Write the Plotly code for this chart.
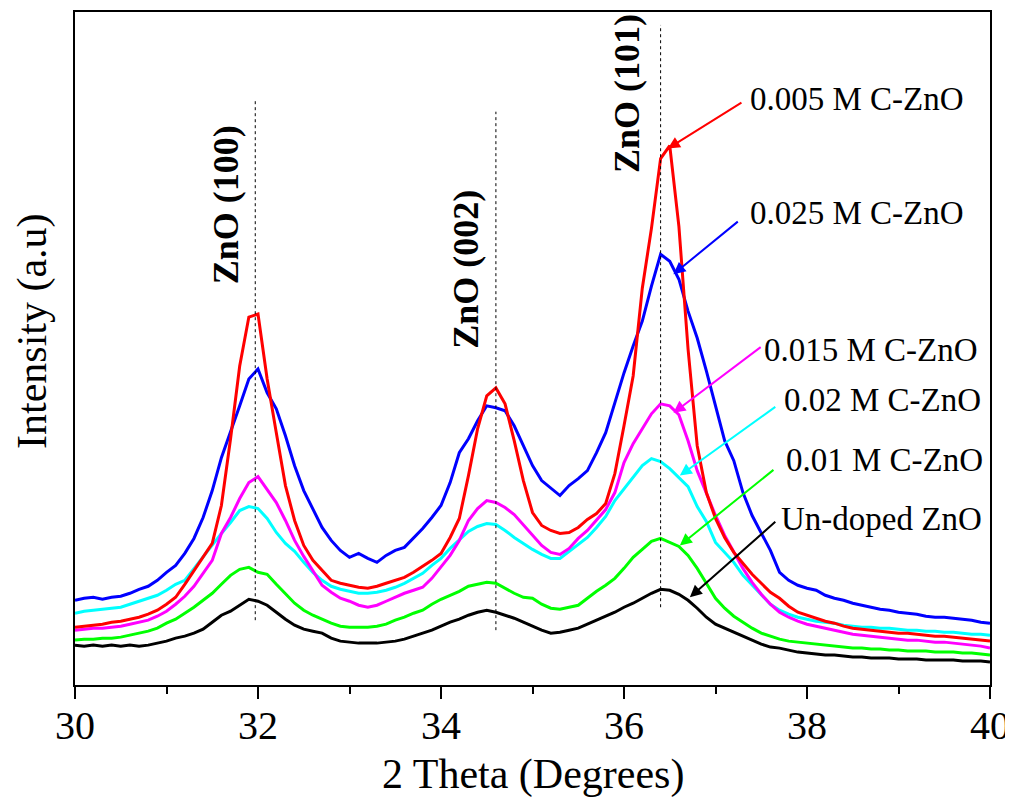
import numpy as np
import plotly.graph_objects as go

# 2-theta sampling grid (degrees)
two_theta = np.round(np.arange(30.0, 40.0001, 0.1), 1)

# Intensities (a.u.), one value per 0.1 degree from 30.0 to 40.0
undoped = [40, 39, 40, 39, 40, 39, 40, 39, 40, 42,
           44, 47, 49, 52, 56, 63, 70, 74, 80, 86,
           84, 80, 73, 66, 60, 56, 54, 52, 47, 44,
           43, 42, 42, 42, 43, 44, 46, 49, 52, 55,
           59, 63, 66, 70, 73, 75, 73, 70, 67, 63,
           59, 55, 52, 53, 55, 57, 61, 65, 69, 73,
           78, 82, 87, 92, 96, 95, 91, 85, 77, 68,
           61, 57, 53, 49, 45, 41, 38, 37, 35, 33,
           32, 31, 30, 30, 29, 28, 28, 27, 27, 27,
           26, 26, 26, 25, 25, 25, 25, 24, 24, 24,
           23]
c_010 = [45, 46, 46, 47, 47, 48, 50, 52, 54, 57,
         62, 66, 72, 78, 85, 92, 101, 110, 116, 118,
         113, 111, 101, 91, 82, 75, 70, 66, 62, 59,
         58, 58, 58, 59, 61, 65, 68, 72, 75, 81,
         86, 90, 94, 99, 101, 103, 102, 97, 92, 88,
         87, 81, 77, 76, 78, 80, 87, 94, 100, 107,
         117, 128, 136, 144, 147, 143, 139, 130, 117, 102,
         87, 77, 69, 63, 57, 52, 49, 46, 44, 43,
         42, 41, 40, 39, 38, 37, 37, 36, 36, 35,
         35, 34, 34, 34, 33, 33, 33, 32, 32, 31,
         30]
c_020 = [72, 74, 75, 76, 77, 78, 81, 84, 87, 90,
         95, 101, 105, 117, 129, 140, 152, 163, 175, 179,
         177, 167, 153, 142, 134, 123, 113, 105, 99, 96,
         94, 92, 92, 93, 95, 98, 102, 107, 112, 120,
         127, 137, 145, 154, 159, 162, 161, 155, 148, 142,
         136, 131, 127, 127, 134, 141, 148, 158, 169, 185,
         197, 208, 220, 227, 224, 217, 208, 199, 179, 164,
         143, 133, 123, 110, 100, 90, 81, 75, 71, 68,
         66, 64, 63, 62, 60, 59, 58, 58, 57, 57,
         56, 55, 55, 54, 54, 53, 53, 52, 51, 51,
         50]
c_015 = [55, 56, 57, 57, 58, 59, 61, 63, 65, 69,
         74, 81, 89, 99, 112, 125, 152, 168, 187, 203,
         209, 196, 183, 165, 145, 129, 115, 100, 93, 87,
         84, 80, 78, 80, 84, 88, 92, 95, 98, 107,
         118, 130, 145, 165, 177, 185, 183, 178, 171, 161,
         150, 140, 133, 131, 137, 147, 155, 165, 176, 193,
         223, 242, 257, 272, 282, 280, 271, 245, 215, 193,
         170, 150, 133, 117, 103, 91, 81, 73, 68, 64,
         61, 59, 57, 55, 53, 51, 50, 49, 48, 47,
         46, 45, 45, 44, 43, 43, 42, 41, 40, 39,
         37]
c_025 = [85, 87, 88, 86, 88, 89, 92, 96, 99, 105,
         113, 120, 132, 147, 168, 195, 228, 253, 280, 307,
         317, 293, 277, 250, 220, 195, 177, 158, 145, 135,
         128, 132, 127, 123, 130, 135, 138, 147, 157, 168,
         180, 203, 233, 247, 265, 280, 278, 275, 260, 240,
         220, 205, 197, 190, 200, 207, 215, 233, 253, 283,
         313, 340, 365, 400, 432, 425, 407, 375, 348, 315,
         280, 245, 225, 193, 170, 153, 135, 113, 105, 100,
         97, 95, 90, 87, 85, 82, 80, 78, 76, 75,
         73, 72, 71, 69, 68, 68, 67, 66, 65, 63,
         62]
c_005 = [58, 59, 60, 61, 63, 64, 66, 68, 71, 75,
         81, 88, 101, 115, 128, 142, 180, 247, 320, 369,
         372, 307, 253, 200, 165, 140, 125, 115, 105, 102,
         100, 98, 97, 99, 102, 105, 108, 113, 119, 125,
         132, 148, 167, 210, 257, 290, 298, 282, 245, 205,
         173, 160, 155, 152, 153, 158, 166, 172, 182, 212,
         260, 310, 398, 458, 528, 541, 460, 337, 240, 193,
         167, 148, 133, 122, 111, 102, 93, 87, 79, 73,
         70, 67, 64, 62, 59, 57, 56, 55, 54, 53,
         52, 52, 51, 50, 49, 49, 48, 47, 46, 45,
         44]

series = [
    ("Un-doped ZnO", undoped, "#000000"),
    ("0.01 M C-ZnO", c_010, "#00FF00"),
    ("0.02 M C-ZnO", c_020, "#00FFFF"),
    ("0.015 M C-ZnO", c_015, "#FF00FF"),
    ("0.025 M C-ZnO", c_025, "#0000FF"),
    ("0.005 M C-ZnO", c_005, "#FF0000"),
]

# Peak reference lines: position, label, lower and upper intensity of the dotted line
peak_pos = [31.97, 34.60, 36.40]
peak_labels = ["ZnO (100)", "ZnO (002)", "ZnO (101)"]
peak_line_lo = [65, 55, 78]
peak_line_hi = [588, 575, 662]

# Series label placement (paper coords) and arrow head / tail (data coords)
label_pos = {
    "0.005 M C-ZnO": (0.7355, 0.871),
    "0.025 M C-ZnO": (0.7355, 0.702),
    "0.015 M C-ZnO": (0.7508, 0.498),
    "0.02 M C-ZnO": (0.7727, 0.424),
    "0.01 M C-ZnO": (0.7749, 0.335),
    "Un-doped ZnO": (0.7694, 0.247),
}
arrow_head = {
    "0.005 M C-ZnO": (36.48, 538), "0.025 M C-ZnO": (36.54, 412),
    "0.015 M C-ZnO": (36.54, 273), "0.02 M C-ZnO": (36.61, 210),
    "0.01 M C-ZnO": (36.61, 140), "Un-doped ZnO": (36.72, 88),
}
arrow_tail = {
    "0.005 M C-ZnO": (37.30, 585), "0.025 M C-ZnO": (37.26, 466),
    "0.015 M C-ZnO": (37.51, 340), "0.02 M C-ZnO": (37.67, 280),
    "0.01 M C-ZnO": (37.65, 217), "Un-doped ZnO": (37.67, 165),
}

FONT = "Liberation Serif"

fig = go.Figure()
for name, vals, color in series:
    fig.add_trace(go.Scatter(x=two_theta, y=vals, mode="lines", name=name,
                             line=dict(color=color, width=3), showlegend=False))

for xp, lo, hi in zip(peak_pos, peak_line_lo, peak_line_hi):
    fig.add_shape(type="line", xref="x", yref="y", x0=xp, x1=xp, y0=lo, y1=hi,
                  line=dict(color="black", width=1, dash="dot"))

ann = []
peak_label_pos = [(0.166, 0.714), (0.427, 0.618), (0.604, 0.879)]
for lab, (px, py) in zip(peak_labels, peak_label_pos):
    ann.append(dict(text="<b>%s</b>" % lab, xref="paper", yref="paper", x=px, y=py,
                    textangle=-90, showarrow=False, xanchor="center", yanchor="middle",
                    font=dict(family=FONT, size=36, color="black")))

for name, vals, color in series:
    lx, ly = label_pos[name]
    ann.append(dict(text=name, xref="paper", yref="paper", x=lx, y=ly, showarrow=False,
                    xanchor="left", yanchor="middle",
                    font=dict(family=FONT, size=33, color="black")))
    hx, hy = arrow_head[name]
    tx, ty = arrow_tail[name]
    ann.append(dict(text="", x=hx, y=hy, ax=tx, ay=ty, xref="x", yref="y",
                    axref="x", ayref="y", showarrow=True, arrowhead=2, arrowsize=1.2,
                    arrowwidth=2, arrowcolor=color, standoff=0))

ann.append(dict(text="2 Theta (Degrees)", xref="paper", yref="paper", x=0.5, y=-0.133,
                showarrow=False, xanchor="center", yanchor="middle",
                font=dict(family=FONT, size=42, color="black")))
ann.append(dict(text="Intensity (a.u)", xref="paper", yref="paper", x=-0.047, y=0.526,
                textangle=-90, showarrow=False, xanchor="center", yanchor="middle",
                font=dict(family=FONT, size=42, color="black")))

# page body has an 8 px margin, so the figure is sized/offset to land the plot area
# where the reference has it
fig.update_layout(
    width=1005, height=790,
    margin=dict(l=67, r=23, t=2, b=113),
    paper_bgcolor="white", plot_bgcolor="white",
    annotations=ann,
    xaxis=dict(range=[30, 40], tick0=30, dtick=2, showline=True, linewidth=2,
               linecolor="black", mirror=True, ticks="outside", ticklen=12,
               tickwidth=2, tickcolor="black", showgrid=False, zeroline=False,
               ticklabelstandoff=-8,
               tickfont=dict(family=FONT, size=40, color="black"),
               minor=dict(ticks="outside", ticklen=7, tickwidth=2, tickcolor="black",
                          dtick=1, showgrid=False)),
    yaxis=dict(range=[0, 675], showline=True, linewidth=2, linecolor="black",
               mirror=True, ticks="", showticklabels=False, showgrid=False,
               zeroline=False),
)

fig.write_html("out.html")
